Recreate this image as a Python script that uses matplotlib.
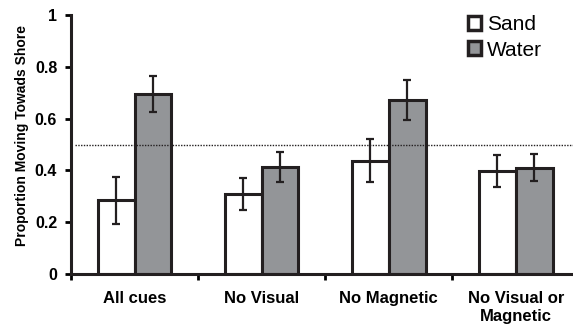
import matplotlib
matplotlib.use("Agg")
import matplotlib.pyplot as plt
import numpy as np
from matplotlib.patches import Patch

plt.rcParams['font.family'] = ['Liberation Sans', 'DejaVu Sans']

categories = ["All cues", "No Visual", "No Magnetic", "No Visual or\nMagnetic"]
sand = [0.285, 0.31, 0.437, 0.398]
sand_err = [0.09, 0.062, 0.083, 0.062]
water = [0.695, 0.413, 0.672, 0.41]
water_err = [0.07, 0.058, 0.076, 0.052]
chance = 0.5

fig = plt.figure(figsize=(5.73, 3.29), dpi=100)
ax = fig.add_axes([0.124, 0.167, 0.887, 0.787])

x = np.arange(len(categories))
w = 0.29
gray = "#939598"
ek = dict(ecolor="#231f20", elinewidth=1.6, capsize=3, capthick=1.6)
ax.bar(x - w/2, sand, w, yerr=sand_err, color="white", edgecolor="#231f20", linewidth=2.2, error_kw=ek, zorder=2)
ax.bar(x + w/2, water, w, yerr=water_err, color=gray, edgecolor="#231f20", linewidth=2.2, error_kw=ek, zorder=2)
ax.axhline(chance, xmin=0.008, xmax=1, color="#231f20", linestyle=(0, (1, 1)), linewidth=1.0, zorder=3)

ax.set_xlim(-0.5, 3.5)
ax.set_ylim(0, 1)
ax.set_yticks([0, 0.2, 0.4, 0.6, 0.8, 1.0])
ax.set_yticklabels(["0", "0.2", "0.4", "0.6", "0.8", "1"], fontsize=11.5, fontweight="bold")
ax.set_xticks(x)
ax.set_xticklabels(categories, fontsize=12, fontweight="bold", linespacing=1.3)
ax.tick_params(axis="x", which="major", length=0, pad=12)
ax.set_xticks(np.arange(-0.5, 3.6, 1.0), minor=True)
ax.tick_params(axis="x", which="minor", length=4, width=2, direction="out")
ax.tick_params(axis="y", length=4, width=2, direction="out", pad=6)
for s in ["top", "right"]:
    ax.spines[s].set_visible(False)
for s in ["left", "bottom"]:
    ax.spines[s].set_linewidth(2.2)
    ax.spines[s].set_color("#231f20")
ax.set_ylabel("Proportion Moving Towads Shore", fontsize=10, fontweight="bold")
ax.yaxis.set_label_coords(-0.082, 0.535)

handles = [Patch(facecolor="white", edgecolor="#231f20", linewidth=2.5, label="Sand"),
           Patch(facecolor=gray, edgecolor="#231f20", linewidth=2.5, label="Water")]
fig.legend(handles=handles, loc="upper left", bbox_to_anchor=(0.802, 0.98), frameon=False,
           fontsize=15, handlelength=0.65, handleheight=0.65, handletextpad=0.25, labelspacing=0.32,
           borderaxespad=0)

fig.savefig("out.png", dpi=100)
